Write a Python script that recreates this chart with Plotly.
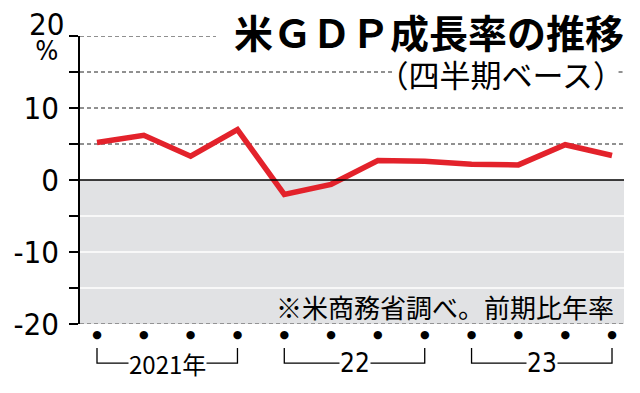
import plotly.graph_objects as go

# ---- data ----
quarters = ["2021Q1", "2021Q2", "2021Q3", "2021Q4",
            "2022Q1", "2022Q2", "2022Q3", "2022Q4",
            "2023Q1", "2023Q2", "2023Q3", "2023Q4"]
growth = [5.2, 6.2, 3.3, 7.0, -2.0, -0.6, 2.7, 2.6, 2.2, 2.1, 4.9, 3.4]
year_labels = ["2021年", "22", "23"]
y_tick_vals = [-20, -15, -10, -5, 0, 5, 10, 15, 20]
y_tick_text = ["-20", "", "-10", "", "0", "", "10", "", ""]

title = "米ＧＤＰ成長率の推移"
subtitle = "（四半期ベース）"
source = "※米商務省調べ。前期比年率"
unit = "%"

NUM_FONT = "Liberation Sans Narrow, DejaVu Sans Condensed, Arial Narrow, sans-serif"
JP_FONT = "Noto Sans CJK JP"

x = list(range(len(quarters)))

fig = go.Figure()
fig.add_trace(go.Scatter(x=x, y=growth, mode="lines",
                         line=dict(color="#e3222b", width=5.5),
                         hoverinfo="skip", showlegend=False))

shapes = []
# gray negative area
shapes.append(dict(type="rect", xref="paper", yref="y", x0=0, x1=1, y0=-20, y1=0,
                   fillcolor="#e1e2e4", line=dict(width=0), layer="below"))
# dashed gridlines above zero (segments left clear of the title block)
grid_segments = {5: [(0, 1)], 10: [(0, 1)], 15: [(0, 0.575), (0.99, 1)], 20: [(0, 0.25)]}
for v, segs in grid_segments.items():
    for a, b in segs:
        shapes.append(dict(type="line", xref="paper", yref="y", x0=a, x1=b, y0=v, y1=v,
                           line=dict(color="#222222", width=1, dash="4px,3px"), layer="below"))
# white gridlines inside gray area
for v in [-5, -10, -15]:
    shapes.append(dict(type="line", xref="paper", yref="y", x0=0, x1=1, y0=v, y1=v,
                       line=dict(color="white", width=1.5), layer="below"))
# bottom dashed line
shapes.append(dict(type="line", xref="paper", yref="y", x0=0, x1=1, y0=-20, y1=-20,
                   line=dict(color="#444444", width=1, dash="4px,3px"), layer="below"))
# zero line
shapes.append(dict(type="line", xref="paper", yref="y", x0=0, x1=1, y0=0, y1=0,
                   line=dict(color="black", width=1.5), layer="above"))

annotations = []
# year brackets
for k, lab in enumerate(year_labels):
    i0 = x[4 * k]
    i1 = x[4 * k + 3]
    shapes.append(dict(type="path", xref="x", yref="paper",
                       path=f"M {i0},-0.083 L {i0},-0.136 L {i1},-0.136 L {i1},-0.083",
                       line=dict(color="black", width=1.3)))
    annotations.append(dict(x=(i0 + i1) / 2, y=-0.136, xref="x", yref="paper",
                            text=lab, showarrow=False, bgcolor="white",
                            font=dict(family=NUM_FONT if k else JP_FONT,
                                      size=26 if k else 24, color="black"),
                            borderpad=0, xanchor="center", yanchor="middle"))

# title + subtitle block
annotations.append(dict(x=1.0, y=1.0, xref="paper", yref="paper", xanchor="right", yanchor="top",
                        xshift=2, yshift=35, align="right",
                        text=(f"<span style='font-size:39px'><b>{title}</b></span><br>"
                              f"<span style='font-size:31px'>{subtitle}</span>"),
                        showarrow=False,
                        font=dict(family=JP_FONT, size=30, color="black")))
# source note
annotations.append(dict(x=1.0, y=-20, xref="paper", yref="y", xanchor="right", yanchor="bottom",
                        xshift=-8, yshift=-3,
                        text=source, showarrow=False,
                        font=dict(family=JP_FONT, size=26, color="black")))
# 20 and % labels
annotations.append(dict(x=0, y=20, xref="paper", yref="y", xanchor="right", yanchor="middle",
                        xshift=-14, yshift=0, align="center",
                        text=(f"<span style='font-size:31px'>20</span><br>"
                              f"<span style='font-size:27px'>{unit}</span>"),
                        showarrow=False,
                        font=dict(family=NUM_FONT, size=19, color="black")))

fig.update_layout(
    width=640, height=393, autosize=False,
    margin=dict(l=80, r=16, t=36, b=69),
    paper_bgcolor="white", plot_bgcolor="rgba(0,0,0,0)",
    shapes=shapes, annotations=annotations,
    xaxis=dict(range=[-0.363, 11.256], showgrid=False, zeroline=False,
               tickvals=x, ticktext=["●"] * len(x),
               tickfont=dict(family="DejaVu Sans", size=11, color="black"),
               showline=False, ticks="", ticklabelstandoff=2),
    yaxis=dict(range=[-20, 20], tickvals=y_tick_vals, ticktext=y_tick_text,
               showgrid=False, zeroline=False, showline=True, linecolor="black", linewidth=1.5,
               ticks="outside", ticklen=9, tickwidth=1.5, tickcolor="black",
               ticklabelstandoff=4,
               tickfont=dict(family=NUM_FONT, size=31, color="black")),
)

fig.write_html("out.html", config={"displayModeBar": False},
               post_script="document.body.style.margin='0';")
